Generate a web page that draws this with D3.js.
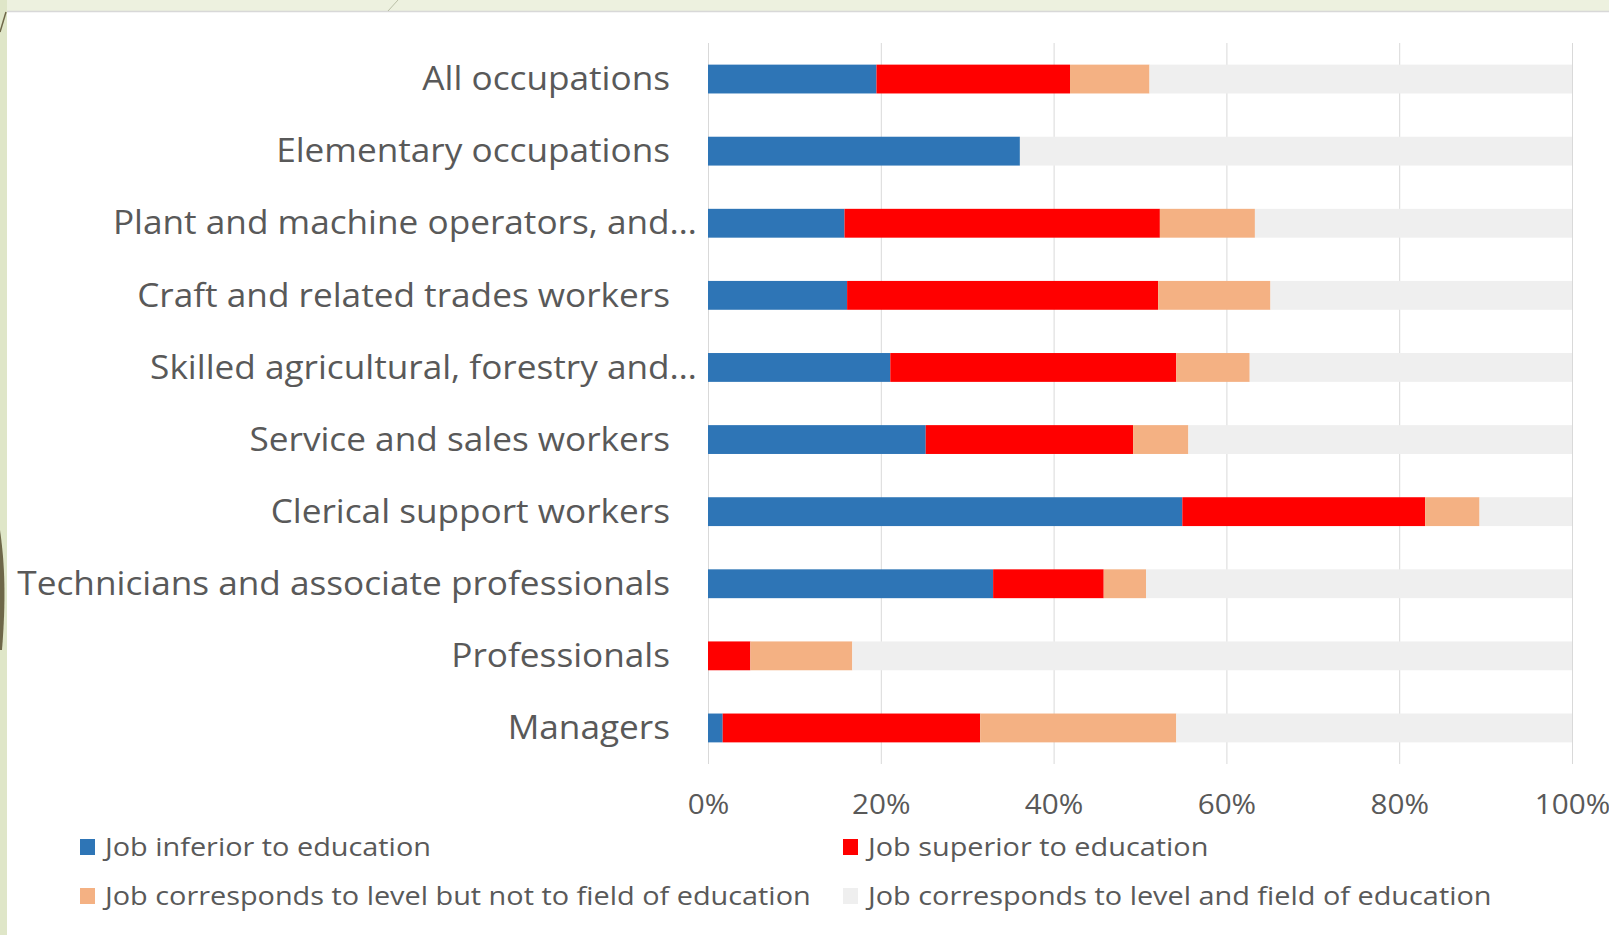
<!DOCTYPE html>
<html>
<head>
<meta charset="utf-8">
<script src="https://cdn.jsdelivr.net/npm/d3@7"></script>
<style>
  html, body { margin: 0; padding: 0; background: #fff; }
  svg { display: block; }
  text { font-family: "Open Sans", Lato, sans-serif; }
</style>
</head>
<body>
<svg class="chart"></svg>
<script>
var width = 1609;
var height = 935;

// occupations, top to bottom
var categories = [
    "All occupations",
    "Elementary occupations",
    "Plant and machine operators, and…",
    "Craft and related trades workers",
    "Skilled agricultural, forestry and…",
    "Service and sales workers",
    "Clerical support workers",
    "Technicians and associate professionals",
    "Professionals",
    "Managers"
];

var seriesNames = [
    "Job inferior to education",
    "Job superior to education",
    "Job corresponds to level but not to field of education",
    "Job corresponds to level and field of education"
];

// shares in %
var inferior      = [19.5, 36.1, 15.8, 16.1, 21.1, 25.2, 54.9, 33.0,  0.0,  1.7];
var superior      = [22.4,  0.0, 36.5, 36.0, 33.1, 24.0, 28.1, 12.8,  4.9, 29.8];
var levelNotField = [ 9.2,  0.0, 11.0, 13.0,  8.5,  6.4,  6.3,  4.9, 11.8, 22.7];
var levelAndField = [48.9, 63.9, 36.7, 34.9, 37.3, 44.4, 10.7, 49.3, 83.3, 45.8];

var tickValues = [0, 0.2, 0.4, 0.6, 0.8, 1];

var colors = ["#2E75B6", "#FF0000", "#F4B183", "#EFEFEF"];

var rows = categories.map(function(c, i) {
    return {
        name: c,
        s0: inferior[i],
        s1: superior[i],
        s2: levelNotField[i],
        s3: levelAndField[i]
    };
});

var keys = ["s0", "s1", "s2", "s3"];
var stacked = d3.stack().keys(keys)(rows);

var svg = d3.select(".chart")
    .attr("width", width)
    .attr("height", height);

// slide background bits around the chart
svg.append("rect").attr("width", width).attr("height", 11).attr("fill", "#EDF1DF");
svg.append("rect").attr("width", 7).attr("height", height).attr("fill", "#DFE6C8");
svg.append("line")
    .attr("x1", 7).attr("x2", width).attr("y1", 11.5).attr("y2", 11.5)
    .attr("stroke", "#D8D8D8").attr("stroke-width", 1.5);
svg.append("path")
    .attr("d", "M0,530 C5,565 6,600 2,650 L0,650 Z")
    .attr("fill", "#6E6748");
svg.append("path")
    .attr("d", "M6,12 L0,32")
    .attr("stroke", "#6E6748").attr("stroke-width", 1.5);
svg.append("path")
    .attr("d", "M388,11 L398,0")
    .attr("stroke", "#B9BFA6").attr("stroke-width", 1);

var x = d3.scaleLinear()
    .domain([0, 100])
    .range([708, 1572]);

var y = d3.scaleBand()
    .domain(categories)
    .range([43, 764])
    .paddingInner(0.6)
    .paddingOuter(0.3);

// gridlines + percent labels
var xAxis = d3.axisBottom(x.copy().domain([0, 1]))
    .tickValues(tickValues)
    .tickFormat(d3.format(".0%"))
    .tickSize(-(764 - 43))
    .tickPadding(30);

var gx = svg.append("g")
    .attr("transform", "translate(0,764)")
    .call(xAxis);
gx.select(".domain").remove();
gx.selectAll(".tick line").attr("stroke", "#D9D9D9").attr("stroke-width", 1);
gx.selectAll(".tick text")
    .attr("fill", "#595959")
    .attr("transform", "scale(1.06,1)")
    .style("font-size", "28px");

// bars
svg.append("g").selectAll("g")
    .data(stacked)
    .enter().append("g")
    .attr("fill", function(d, i) { return colors[i]; })
    .selectAll("rect")
    .data(function(d) { return d; })
    .enter().append("rect")
    .attr("x", function(d) { return x(d[0]); })
    .attr("width", function(d) { return x(d[1]) - x(d[0]); })
    .attr("y", function(d) { return y(d.data.name); })
    .attr("height", y.bandwidth());

// category labels (the original text is a bit stretched sideways,
// cut labels run up to the bars)
svg.append("g").selectAll("g")
    .data(categories)
    .enter().append("g")
    .attr("transform", function(d) {
        var right = d.slice(-1) === "…" ? 697 : 670;
        return "translate(" + right + "," + (y(d) + y.bandwidth() / 2) + ") scale(1.1,1)";
    })
    .append("text")
    .attr("dy", ".35em")
    .attr("text-anchor", "end")
    .attr("fill", "#595959")
    .style("font-size", "32px")
    .text(function(d) { return d; });

// legend, 2 columns
var legendX = [80, 843];
var legendY = [847, 896];

var legend = svg.append("g").selectAll("g")
    .data(seriesNames)
    .enter().append("g")
    .attr("transform", function(d, i) {
        return "translate(" + legendX[i % 2] + "," + legendY[Math.floor(i / 2)] + ")";
    });

legend.append("rect")
    .attr("x", 0)
    .attr("y", -8)
    .attr("width", 15)
    .attr("height", 16)
    .attr("fill", function(d, i) { return colors[i]; });

legend.append("text")
    .attr("transform", "translate(25,0) scale(1.11,1)")
    .attr("dy", ".35em")
    .attr("fill", "#595959")
    .style("font-size", "26px")
    .text(function(d) { return d; });
</script>
</body>
</html>
